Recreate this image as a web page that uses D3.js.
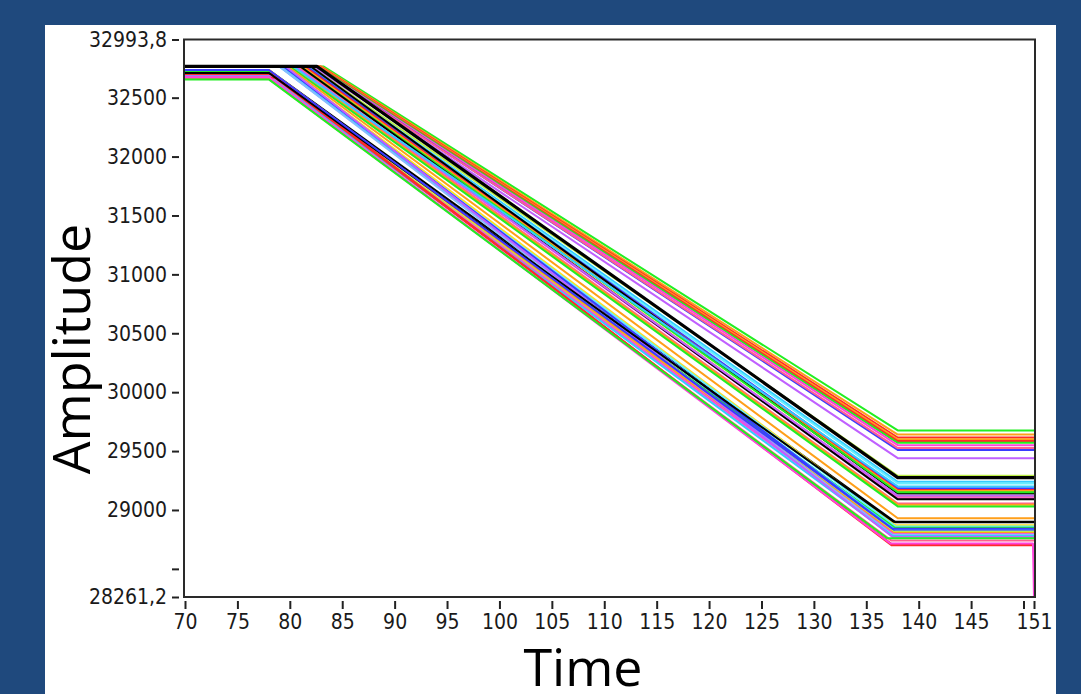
<!DOCTYPE html>
<html>
<head>
<meta charset="utf-8">
<script src="https://cdn.jsdelivr.net/npm/d3@7"></script>
<style>
  html, body { margin: 0; padding: 0; background: #1f497d; }
  svg { display: block; }
  .tick text { font-family: "DejaVu Sans Condensed", "Liberation Sans Narrow", "DejaVu Sans", sans-serif; font-size: 21px; fill: #1a1a1a; }
  .tick line { stroke: #222; stroke-width: 2; }
  .axis-title { font-family: "Open Sans", sans-serif; font-size: 52px; fill: #000; }
</style>
</head>
<body>
<script>
// axis ranges as shown by the graph
const timeRange = [70, 151]
const ampRange = [28261.2, 32993.8]

const xTickValues = [70, 75, 80, 85, 90, 95, 100, 105, 110, 115, 120, 125, 130, 135, 140, 145, 150, 151]
const xTickLabels = ["70", "75", "80", "85", "90", "95", "100", "105", "110", "115", "120", "125", "130", "135", "140", "145", "", "151"]
const yTickValues = [28261.2, 28500, 29000, 29500, 30000, 30500, 31000, 31500, 32000, 32500, 32993.8]
const yTickLabels = ["28261,2", "", "29000", "29500", "30000", "30500", "31000", "31500", "32000", "32500", "32993,8"]

// one entry per trace: plateau level, ramp start/end time, final level
const traceColors = [
    "#22ee22", "#ff9f1a", "#ff2a2a", "#ff9f1a", "#ff2a2a", "#22ee22", "#ff44dd", "#3b3bff", "#ff5f8f", "#c060ff",
    "#bbee44", "#33ccff", "#66eeff", "#3b3bff", "#ff2a2a", "#ff9f1a", "#000000", "#22ee22", "#ff9f1a", "#ff44dd",
    "#000000", "#ff5f8f", "#ff9f1a", "#22ee22", "#c060ff", "#33ccff",
    "#ff9f1a", "#000000", "#ffe020", "#66eeff", "#22ee22", "#33ccff", "#3b3bff", "#bbee44", "#ff9f1a", "#ff44dd",
    "#88bbff", "#33ccff", "#c060ff", "#ff2a2a", "#ff5f8f", "#ff2a2a", "#ff44dd", "#22ee22", "#000000", "#3b3bff",
    "#000000"
]
const startLevels = [
    32765, 32765, 32765, 32765, 32765, 32765, 32765, 32765, 32765, 32765,
    32765, 32765, 32765, 32765, 32765, 32765, 32765, 32765, 32765, 32765,
    32765, 32765, 32765, 32765, 32765, 32765,
    32765, 32735, 32765, 32765, 32720, 32765, 32765, 32700, 32735, 32690,
    32765, 32680, 32765, 32670, 32660, 32700, 32675, 32655, 32710, 32735,
    32765
]
const rampStarts = [
    83.2, 83.0, 82.9, 82.8, 82.7, 82.6, 82.5, 82.4, 82.3, 82.2,
    82.0, 81.8, 81.5, 81.6, 81.4, 81.2, 82.0, 81.0, 80.8, 80.6,
    81.0, 80.4, 80.2, 80.0, 80.5, 80.3,
    79.8, 78.0, 79.5, 79.2, 78.0, 79.0, 79.4, 78.0, 78.0, 78.0,
    79.0, 78.0, 79.6, 78.6, 78.0, 78.4, 78.0, 78.0, 78.0, 78.0,
    82.6
]
const rampEnds = [
    138.0, 138.0, 138.0, 138.0, 138.0, 138.0, 138.0, 138.0, 138.0, 138.0,
    138.0, 138.0, 138.0, 138.0, 138.0, 138.0, 138.0, 138.0, 138.0, 138.0,
    138.0, 138.0, 138.0, 138.0, 138.0, 138.0,
    138.0, 137.8, 137.8, 137.8, 137.7, 137.7, 137.7, 137.6, 137.6, 137.6,
    137.5, 137.5, 137.5, 137.5, 137.4, 137.4, 137.3, 137.0, 137.6, 137.5,
    138.0
]
const endLevels = [
    29675, 29640, 29615, 29600, 29585, 29570, 29550, 29510, 29525, 29440,
    29290, 29240, 29225, 29185, 29170, 29160, 29140, 29150, 29115, 29100,
    29090, 29055, 29045, 29030, 29120, 29200,
    28930, 28895, 28870, 28860, 28850, 28835, 28820, 28815, 28805, 28795,
    28790, 28780, 28770, 28705, 28740, 28700, 28715, 28760, 28900, 28840,
    29275
]
// the last sample of one trace falls to the bottom of the scale
const dropTrace = 42
const dropTime = 150.9
const dropLevel = 28261.2

const width = 1081
const height = 694
const plot = {left: 185, right: 1034, top: 39.5, bottom: 597}

const svg = d3.select("body").append("svg")
    .attr("width", width)
    .attr("height", height)

svg.append("rect")
    .attr("x", 45).attr("y", 25)
    .attr("width", 1011).attr("height", height - 25)
    .attr("fill", "#ffffff")

const x = d3.scaleLinear().domain(timeRange).range([plot.left, plot.right])
const y = d3.scaleLinear().domain(ampRange).range([plot.bottom, plot.top])

const traces = traceColors.map((c, i) => {
    const pts = [
        [timeRange[0], startLevels[i]],
        [rampStarts[i], startLevels[i]],
        [rampEnds[i], endLevels[i]]
    ]
    if (i === dropTrace) {
        pts.push([dropTime, endLevels[i]], [timeRange[1], dropLevel])
    } else {
        pts.push([timeRange[1], endLevels[i]])
    }
    return {color: c, points: pts, heavy: i === traceColors.length - 1}
})

const line = d3.line()
    .x(d => x(d[0]))
    .y(d => y(d[1]))

svg.append("g")
    .selectAll("path")
    .data(traces)
    .join("path")
    .attr("d", d => line(d.points))
    .attr("fill", "none")
    .attr("stroke", d => d.color)
    .attr("stroke-width", d => d.heavy ? 3.2 : 2)
    .attr("stroke-linejoin", "round")

// frame
svg.append("rect")
    .attr("x", plot.left - 1).attr("y", plot.top)
    .attr("width", plot.right - plot.left + 2).attr("height", plot.bottom - plot.top)
    .attr("fill", "none")
    .attr("stroke", "#2a2a2a")
    .attr("stroke-width", 2)

const yAxis = svg.append("g")
    .attr("transform", `translate(${plot.left - 6},0)`)
    .call(d3.axisLeft(y)
        .tickValues(yTickValues)
        .tickFormat((d, i) => yTickLabels[i])
        .tickSize(7)
        .tickPadding(5))
yAxis.select(".domain").remove()

const xAxis = svg.append("g")
    .attr("transform", `translate(0,${plot.bottom + 4})`)
    .call(d3.axisBottom(x)
        .tickValues(xTickValues)
        .tickFormat((d, i) => xTickLabels[i])
        .tickSize(8)
        .tickPadding(5))
xAxis.select(".domain").remove()

svg.append("text")
    .attr("class", "axis-title")
    .attr("x", 583)
    .attr("y", 686)
    .attr("text-anchor", "middle")
    .text("Time")

svg.append("text")
    .attr("class", "axis-title")
    .attr("transform", "translate(90,349) rotate(-90)")
    .attr("text-anchor", "middle")
    .text("Amplitude")
</script>
</body>
</html>
